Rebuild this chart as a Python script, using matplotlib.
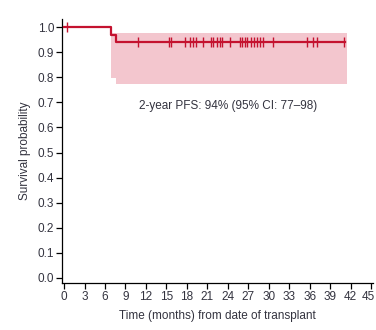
import matplotlib
matplotlib.use("Agg")
import matplotlib.pyplot as plt
import matplotlib.transforms as mtransforms

# KM step curve
step_times = [0, 6.9, 7.6, 41.2]
step_surv  = [1.0, 0.969, 0.94, 0.94]

# confidence band
ci_times = [6.9, 7.6, 41.5]
ci_upper = [0.978, 0.978, 0.978]
ci_lower = [0.796, 0.772, 0.772]

# censored observations
cens_early = [0.4]
cens_times = [10.9, 15.35, 15.73, 17.68, 18.51, 18.89, 19.29, 20.35, 21.57,
              21.81, 22.46, 22.79, 23.19, 24.25, 25.72, 26.11, 26.45, 26.84,
              27.32, 27.76, 28.3, 28.64, 29.2, 30.67, 35.55, 36.43, 37.0, 41.06]

xticks = list(range(0, 46, 3))
yticks = [i / 10 for i in range(11)]

RED  = "#c4122f"
BAND = "#f3c6ce"
TXT  = "#33333f"
plt.rcParams["font.family"] = ["Liberation Sans", "DejaVu Sans"]

fig = plt.figure(figsize=(3.76, 3.30), dpi=100)
ax = fig.add_axes([0.1649, 0.1424, 0.826, 0.80])

ax.fill_between(ci_times, ci_lower, ci_upper, step="post", color=BAND,
                linewidth=0, zorder=1)
ax.step(step_times, step_surv, where="post", color=RED, linewidth=1.6, zorder=3)
ax.plot(cens_early, [1.0] * len(cens_early), linestyle="none", marker="|",
        color=RED, markersize=7, markeredgewidth=1.0, zorder=4)
ax.plot(cens_times, [0.94] * len(cens_times), linestyle="none", marker="|",
        color=RED, markersize=7, markeredgewidth=1.0, zorder=4)

ax.text(24, 0.685, "2-year PFS: 94% (95% CI: 77\u201398)", ha="center",
        va="center", fontsize=8.5, color=TXT)

ax.set_xlim(-0.3, 45.2)
ax.set_ylim(-0.02, 1.032)
ax.set_xticks(xticks)
ax.set_yticks(yticks)
ax.set_yticklabels([f"{v:.1f}" for v in yticks])
ax.tick_params(labelsize=8.5, labelcolor=TXT, length=4, width=0.9, pad=1.5)
for side in ("top", "right"):
    ax.spines[side].set_visible(False)
for side in ("left", "bottom"):
    ax.spines[side].set_linewidth(0.9)

# last x label sits against the right edge, nudge it in a touch
last = ax.get_xticklabels()[-1]
last.set_transform(last.get_transform() +
                   mtransforms.ScaledTranslation(-3 / 100, 0, fig.dpi_scale_trans))

ax.set_xlabel("Time (months) from date of transplant", fontsize=8.5, color=TXT,
              labelpad=5)
ax.set_ylabel("Survival probability", fontsize=8.5, color=TXT, labelpad=5)

fig.savefig("out.png", dpi=100)
